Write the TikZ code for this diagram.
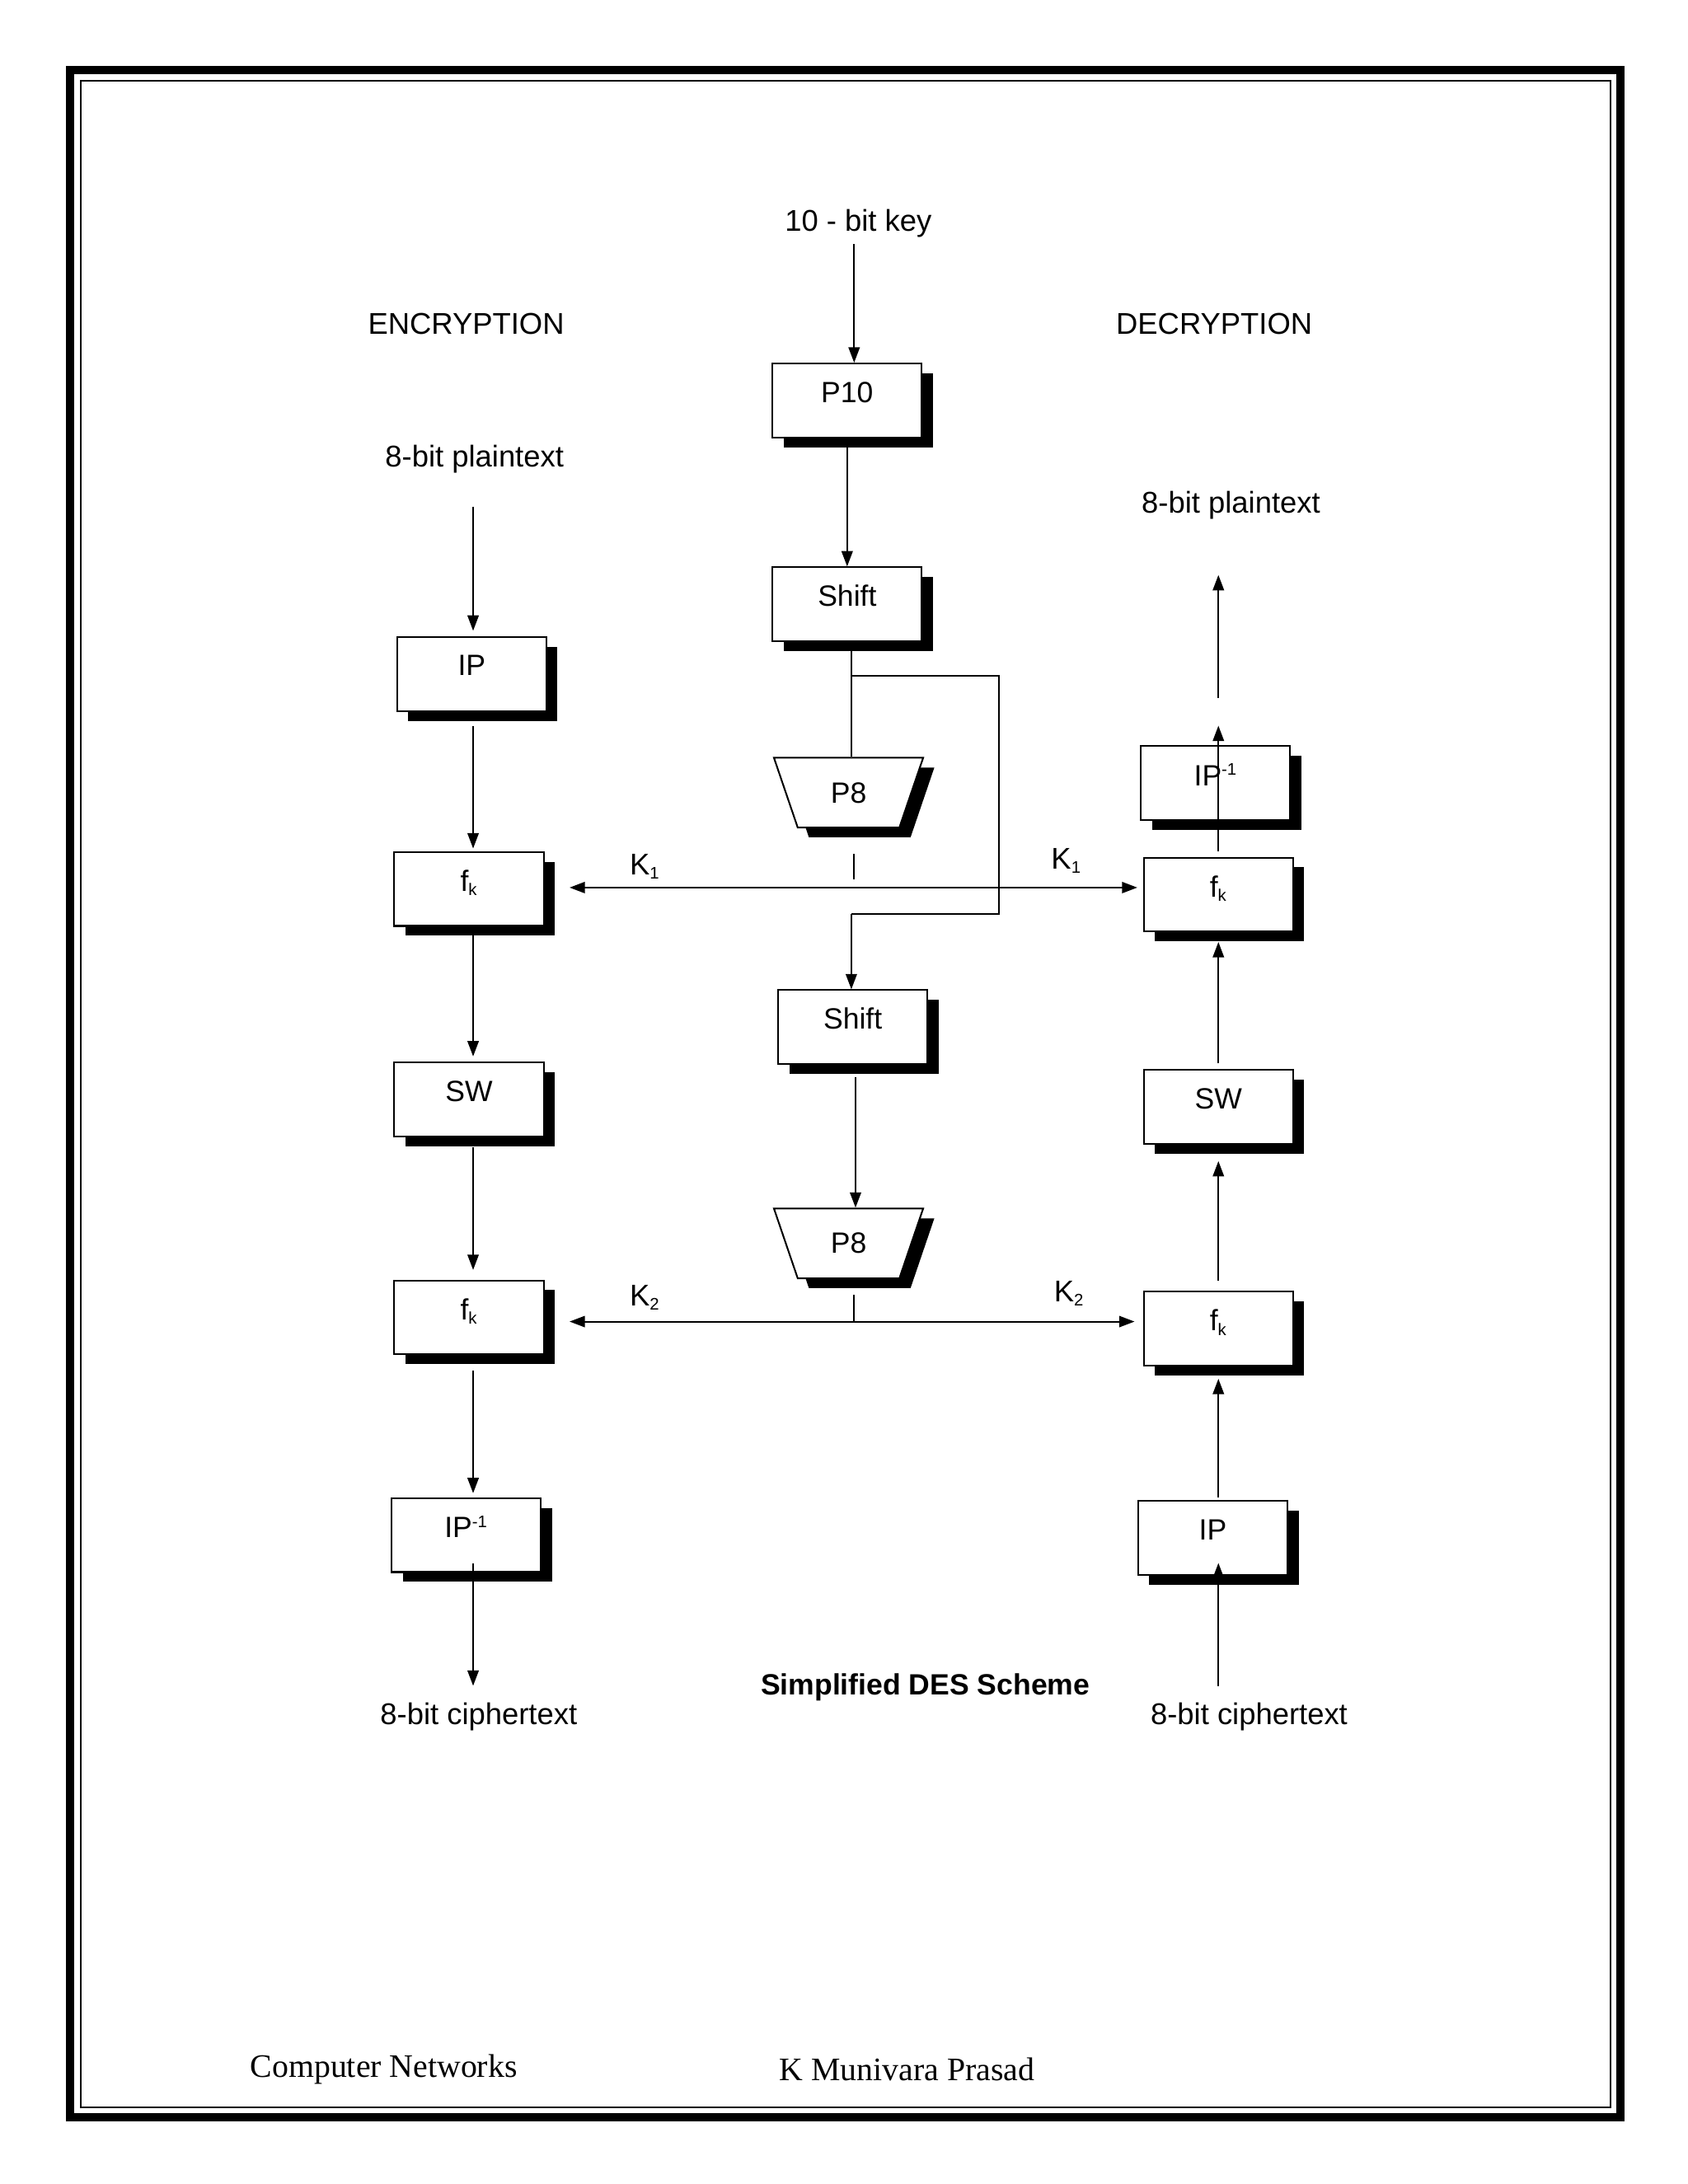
\documentclass[tikz,border=0pt]{standalone}
\usepackage{fontspec}
\setmainfont{Liberation Sans}
\newfontfamily\serifft{Liberation Serif}
\usetikzlibrary{shapes.geometric,shadows,arrows.meta}
\begin{document}
\begin{tikzpicture}[x=1pt,y=-1pt,
  sh/.style={general shadow={fill=black,shadow xshift=8pt,shadow yshift=-7pt}},
  box/.style={draw,fill=white,line width=1.2pt,minimum width=107pt,minimum height=53pt,sh,font=\fontsize{21}{24}\selectfont,inner sep=0pt,text depth=12pt},
  trap/.style={draw,fill=white,line width=1.2pt,trapezium,shape border rotate=180,trapezium stretches=true,minimum width=107pt,minimum height=50pt,trapezium angle=68,sh,font=\fontsize{21}{24}\selectfont,inner sep=0pt},
  lbl/.style={font=\fontsize{21.5}{24}\selectfont,inner sep=0pt},
  arr/.style={line width=1.2pt,-{Triangle[length=11pt,width=8pt]}},
  ln/.style={line width=1.2pt}]
\useasboundingbox (0,0) rectangle (1209,1565);
\draw[line width=6pt] (50,50) rectangle (1161,1517);
\draw[line width=1pt] (58,58) rectangle (1154,1510);
% titles
\node[lbl] (key) at (615,160) {10 - bit key};
\node[lbl] (enc) at (334,232) {ENCRYPTION};
\node[lbl] (dec) at (870,232) {DECRYPTION};
\node[lbl] (ept) at (340,329) {8-bit plaintext};
\node[lbl] (dpt) at (882,362) {8-bit plaintext};
\node[lbl] (ect) at (343,1230) {8-bit ciphertext};
\node[lbl] (dct) at (895,1230) {8-bit ciphertext};
\node[lbl,font=\bfseries\fontsize{21}{24}\selectfont] (title) at (663,1209) {Simplified DES Scheme};
\node[inner sep=0pt,font=\serifft\fontsize{23.5}{26}\selectfont] (f1) at (275,1483) {Computer Networks};
\node[inner sep=0pt,font=\serifft\fontsize{23.5}{26}\selectfont] (f2) at (650,1483) {K Munivara Prasad};
% key schedule
\node[box] (p10) at (607,287) {P10};
\node[box] (s1) at (607,433) {Shift};
\node[trap] (p8a) at (608,568) {P8};
\node[box] (s2) at (611,736) {Shift};
\node[trap] (p8b) at (608,891) {P8};
\draw[arr] (612,175) -- (p10.north -| 612,0);
\draw[arr] (p10.south) -- (s1.north);
\draw[ln] (s1.south -| 610,0) -- (p8a.north -| 610,0);
\coordinate (b1) at (610,484);
\coordinate (b2) at (716,484);
\coordinate (b3) at (716,655);
\coordinate (b4) at (610,655);
\draw[ln] (b1) -- (b2) -- (b3) -- (b4);
\draw[arr] (b4) -- (s2.north -| b4);
\draw[arr] (613,772) -- (p8b.north -| 613,0);
\coordinate (k1a) at (612,612);
\coordinate (c1) at (612,636);
\coordinate (k2a) at (612,928);
\coordinate (c2) at (612,947);
\draw[ln] (k1a) -- (612,630);
\draw[ln] (k2a) -- (c2);
% encryption column
\node[box] (eip) at (338,483) {IP};
\node[box] (efk1) at (336,637) {f\textsubscript{\fontsize{12}{13}\selectfont k}};
\node[box] (esw) at (336,788) {SW};
\node[box] (efk2) at (336,944) {f\textsubscript{\fontsize{12}{13}\selectfont k}};
\node[box] (eipi) at (334,1100) {IP\textsuperscript{\fontsize{12}{13}\selectfont -1}};
\draw[arr] (339,363) -- (339,452);
\draw[arr] (339,520) -- (339,608);
\draw[arr] (339,668) -- (339,757);
\draw[arr] (339,822) -- (339,910);
\draw[arr] (339,982) -- (339,1070);
\draw[arr] (339,1120) -- (339,1208);
% decryption column
\node[box] (dipi) at (871,561) {IP\textsuperscript{\fontsize{12}{13}\selectfont -1}};
\node[box] (dfk1) at (873,641) {f\textsubscript{\fontsize{12}{13}\selectfont k}};
\node[box] (dsw) at (873,793) {SW};
\node[box] (dfk2) at (873,952) {f\textsubscript{\fontsize{12}{13}\selectfont k}};
\node[box] (dip) at (869,1102) {IP};
\draw[arr] (873,500) -- (873,412);
\draw[arr] (873,610) -- (873,520);
\draw[arr] (873,762) -- (873,675);
\draw[arr] (873,918) -- (873,832);
\draw[arr] (873,1073) -- (873,988);
\draw[arr] (873,1208) -- (873,1120);
% key lines
\draw[arr,shorten >=18pt] (c1) -- (efk1.east |- c1);
\draw[arr,shorten >=4pt] (c1) -- (dfk1.west |- c1);
\draw[arr,shorten >=18pt] (c2) -- (efk2.east |- c2);
\draw[arr,shorten >=6pt] (c2) -- (dfk2.west |- c2);
\node[lbl] (k1l) at (462,621) {K\textsubscript{\fontsize{12}{13}\selectfont 1}};
\node[lbl] (k1r) at (764,617) {K\textsubscript{\fontsize{12}{13}\selectfont 1}};
\node[lbl] (k2l) at (462,930) {K\textsubscript{\fontsize{12}{13}\selectfont 2}};
\node[lbl] (k2r) at (766,927) {K\textsubscript{\fontsize{12}{13}\selectfont 2}};
\end{tikzpicture}
\end{document}
